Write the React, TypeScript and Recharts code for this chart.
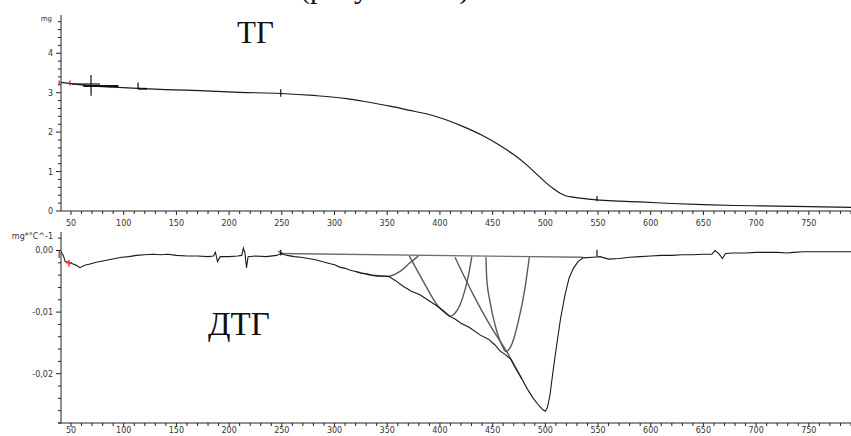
import { LineChart, Line, XAxis, YAxis, ReferenceLine } from 'recharts'

// TG curve: temperature (°C) and mass (mg)
const tgTemp = [40.5, 50, 60, 70, 90, 113.6, 140, 172.4, 210, 249, 280, 311.6, 330, 352.6, 370, 390.6, 405, 422.2, 440, 457, 470, 482.3, 492, 501.3, 508, 514, 520, 526.3, 535, 548.7, 570, 589.8, 620, 649.6, 680, 703.7, 750, 790]
const tgMass = [3.26, 3.23, 3.2, 3.17, 3.14, 3.11, 3.08, 3.05, 3.01, 2.98, 2.93, 2.85, 2.77, 2.66, 2.56, 2.44, 2.32, 2.14, 1.92, 1.66, 1.43, 1.17, 0.93, 0.7, 0.56, 0.45, 0.38, 0.35, 0.32, 0.28, 0.25, 0.23, 0.19, 0.16, 0.14, 0.13, 0.11, 0.094]

// DTG curve: temperature (°C) and rate (mg/°C)
const dtgTemp = [40.5, 42.7, 44.5, 49, 55, 58.5, 63, 68, 74, 80, 86, 92, 98, 105, 112, 120, 128, 135, 142, 150, 160, 170, 180, 185, 187, 189, 191.5, 200, 208, 212, 213.5, 215, 216.5, 218, 225, 235, 245, 249, 255, 262, 268, 275, 282, 288, 295, 300, 305, 310, 315, 320, 325, 330, 335, 343, 351, 358, 365, 373, 381, 390, 398, 404, 409.6, 415, 420, 428, 438, 446, 452, 457, 462, 467, 472, 477.6, 483, 488.6, 494, 498, 500, 502, 504.4, 507, 510.8, 514.5, 518.7, 522.5, 526.6, 531, 536, 545, 552, 560, 570, 580, 590, 600, 610, 620, 630, 640, 650, 658, 661, 665, 668, 671, 678, 690, 700, 710, 720, 730, 735, 745, 760, 775, 790]
const dtgRate = [-0.0002, -0.0008, -0.0018, -0.002, -0.0024, -0.0028, -0.0024, -0.0022, -0.0019, -0.0017, -0.0015, -0.0013, -0.0011, -0.001, -0.0008, -0.0007, -0.0006, -0.0007, -0.0006, -0.0008, -0.0009, -0.0009, -0.001, -0.0009, -0.0003, -0.0018, -0.001, -0.001, -0.0009, -0.0008, 0.0004, -0.0004, -0.0028, -0.001, -0.0009, -0.001, -0.0008, -0.0005, -0.0008, -0.001, -0.0011, -0.0013, -0.0015, -0.0018, -0.0021, -0.0023, -0.0027, -0.0029, -0.0032, -0.0034, -0.0037, -0.0038, -0.004, -0.0041, -0.0042, -0.0049, -0.0058, -0.0066, -0.0072, -0.0082, -0.0091, -0.0099, -0.0107, -0.0112, -0.0118, -0.0125, -0.0137, -0.0144, -0.0153, -0.0163, -0.0169, -0.0176, -0.0192, -0.0208, -0.0225, -0.024, -0.0252, -0.0259, -0.0261, -0.0255, -0.0235, -0.02, -0.0153, -0.011, -0.0072, -0.0045, -0.0029, -0.0018, -0.0012, -0.0011, -0.001, -0.0014, -0.0013, -0.0011, -0.001, -0.0009, -0.0008, -0.0008, -0.0007, -0.0007, -0.0006, -0.0006, 0, -0.0006, -0.0013, -0.0005, -0.0004, -0.0004, -0.0003, -0.0003, -0.0003, -0.0004, -0.0003, -0.0002, -0.0002, -0.0002, -0.0002]

// baseline and fitted peaks under the DTG
const baseTemp = [248.3, 535.8]
const baseRate = [-0.0005, -0.0011]
const peak1Temp = [320, 335, 343.2, 351, 362.1, 371.6, 379.5]
const peak1Rate = [-0.0034, -0.004, -0.0042, -0.0042, -0.0034, -0.002, -0.0009]
const peak2Temp = [371, 384.2, 398.5, 404.8, 409.6, 414.3, 419.1, 423.8, 427.6, 430.2]
const peak2Rate = [-0.0009, -0.005, -0.0091, -0.0101, -0.0107, -0.0102, -0.0088, -0.0064, -0.0036, -0.001]
const peak3Temp = [443.7, 444.4, 447.5, 452.3, 458.6, 462.4, 467.2, 474.4, 480.7, 484.8]
const peak3Rate = [-0.0011, -0.0045, -0.0083, -0.0121, -0.0153, -0.0164, -0.0156, -0.0115, -0.0061, -0.0011]
const peak4Temp = [414.3, 431.7, 447.5, 463.3, 477.6]
const peak4Rate = [-0.0011, -0.0072, -0.0121, -0.0164, -0.0208]

// ticks
const xMajorTicks = [50, 100, 150, 200, 250, 300, 350, 400, 450, 500, 550, 600, 650, 700, 750]
const tgMajorTicks = [0, 1, 2, 3, 4]
const dtgMajorTicks = [0, -0.01, -0.02]

const xTicks = xMajorTicks.flatMap((m) => [0, 10, 20, 30, 40].map((k) => m + k))
const tgTicks = tgMajorTicks.flatMap((m) => [0, 0.2, 0.4, 0.6, 0.8].map((k) => Math.round((m + k) * 10) / 10))
const dtgTicks = [0.002, ...dtgMajorTicks.flatMap((m) => [0, 0.002, 0.004, 0.006, 0.008].map((k) => Math.round((m - k) * 1000) / 1000)), -0.028]

const zip = (t: number[], v: number[]) => t.map((x, i) => ({ t: x, v: v[i] }))
const tgData = zip(tgTemp, tgMass)
const dtgData = zip(dtgTemp, dtgRate)

const axisColor = '#222'
const labelFont = 'DejaVu Sans, Verdana, sans-serif'

const makeXTick = (dy: number) => (props: any) => {
  const { x, y, payload } = props
  const major = xMajorTicks.includes(payload.value)
  return (
    <g>
      <line x1={x} x2={x} y1={y} y2={y + (major ? 4 : 3)} stroke={axisColor} />
      {major && (
        <text x={x} y={y + dy} textAnchor="middle" fontSize={8} fill="#333" fontFamily={labelFont}>
          {payload.value}
        </text>
      )}
    </g>
  )
}

const makeYTick = (isMajor: (v: number) => boolean, fmt: (v: number) => string) => (props: any) => {
  const { x, y, payload } = props
  const major = isMajor(payload.value)
  return (
    <g>
      <line x1={x - (major ? 5 : 3)} x2={x} y1={y} y2={y} stroke={axisColor} />
      {major && (
        <text x={x - 8} y={y + 3} textAnchor="end" fontSize={8} fill="#333" fontFamily={labelFont}>
          {fmt(payload.value)}
        </text>
      )}
    </g>
  )
}

const tgYTick = makeYTick((v) => tgMajorTicks.includes(v), (v) => String(v))
const dtgYTick = makeYTick(
  (v) => dtgMajorTicks.some((m) => Math.abs(m - v) < 1e-9),
  (v) => v.toFixed(2).replace('.', ',')
)

const seg = (x1: number, y1: number, x2: number, y2: number) => [{ x: x1, y: y1 }, { x: x2, y: y2 }]

export default function App() {
  return (
    <div style={{ position: 'absolute', left: 0, top: 0, width: 851, height: 436, overflow: 'hidden', background: '#fff' }}>
      <div style={{ position: 'absolute', left: 0, top: 0 }}>
        <LineChart width={851} height={232} margin={{ top: 15, right: 0, bottom: 0, left: 21 }}>
          <XAxis
            dataKey="t"
            type="number"
            domain={[40.5, 790]}
            allowDataOverflow
            ticks={xTicks}
            interval={0}
            tickSize={0}
            tickMargin={0}
            tickLine={false}
            tick={makeXTick(14.5)}
            axisLine={{ stroke: axisColor }}
            height={21}
          />
          <YAxis
            type="number"
            domain={[0, 4.97]}
            allowDataOverflow
            ticks={tgTicks}
            interval={0}
            tickSize={0}
            tickMargin={0}
            tickLine={false}
            tick={tgYTick}
            axisLine={{ stroke: axisColor }}
            width={40}
          />
          <Line data={tgData} dataKey="v" type="monotone" stroke="#1a1a1a" strokeWidth={1.2} dot={false} isAnimationActive={false} />
          <ReferenceLine segment={seg(38.8, 3.2, 38.8, 3.31)} stroke="#e02020" strokeWidth={1.3} ifOverflow="visible" />
          <ReferenceLine segment={seg(49, 3.18, 49, 3.31)} stroke="#e02020" strokeWidth={1.3} />
          <ReferenceLine segment={seg(50.7, 3.22, 77.5, 3.22)} stroke="#111" strokeWidth={1.2} />
          <ReferenceLine segment={seg(61.7, 3.17, 94.9, 3.17)} stroke="#111" strokeWidth={1.8} />
          <ReferenceLine segment={seg(69, 3.45, 69, 2.92)} stroke="#111" strokeWidth={1.2} />
          <ReferenceLine segment={seg(113.6, 3.26, 113.6, 3.09)} stroke="#111" strokeWidth={1.2} />
          <ReferenceLine segment={seg(113.6, 3.1, 122, 3.1)} stroke="#111" strokeWidth={1.8} />
          <ReferenceLine segment={seg(249, 3.09, 249, 2.9)} stroke="#111" strokeWidth={1.2} />
          <ReferenceLine segment={seg(549, 0.38, 549, 0.25)} stroke="#111" strokeWidth={1.2} />
        </LineChart>
      </div>
      <div style={{ position: 'absolute', left: 0, top: 220 }}>
        <LineChart width={851} height={230} margin={{ top: 12, right: 0, bottom: 0, left: 21 }}>
          <XAxis
            dataKey="t"
            type="number"
            domain={[40.5, 790]}
            allowDataOverflow
            ticks={xTicks}
            interval={0}
            tickSize={0}
            tickMargin={0}
            tickLine={false}
            tick={makeXTick(9.5)}
            axisLine={{ stroke: axisColor }}
            height={27}
          />
          <YAxis
            type="number"
            domain={[-0.028, 0.003]}
            allowDataOverflow
            ticks={dtgTicks}
            interval={0}
            tickSize={0}
            tickMargin={0}
            tickLine={false}
            tick={dtgYTick}
            axisLine={{ stroke: axisColor }}
            width={40}
          />
          <Line data={zip(baseTemp, baseRate)} dataKey="v" type="linear" stroke="#6e6e6e" strokeWidth={1.4} dot={false} isAnimationActive={false} />
          <Line data={zip(peak1Temp, peak1Rate)} dataKey="v" type="monotone" stroke="#5a5a5a" strokeWidth={1.4} dot={false} isAnimationActive={false} />
          <Line data={zip(peak2Temp, peak2Rate)} dataKey="v" type="monotone" stroke="#5a5a5a" strokeWidth={1.4} dot={false} isAnimationActive={false} />
          <Line data={zip(peak3Temp, peak3Rate)} dataKey="v" type="monotone" stroke="#5a5a5a" strokeWidth={1.4} dot={false} isAnimationActive={false} />
          <Line data={zip(peak4Temp, peak4Rate)} dataKey="v" type="monotone" stroke="#5a5a5a" strokeWidth={1.4} dot={false} isAnimationActive={false} />
          <Line data={dtgData} dataKey="v" type="linear" stroke="#1a1a1a" strokeWidth={1.1} dot={false} isAnimationActive={false} />
          <ReferenceLine segment={seg(38.8, 0, 38.8, -0.0012)} stroke="#e02020" strokeWidth={1.3} ifOverflow="visible" />
          <ReferenceLine segment={seg(48, -0.0015, 48, -0.0026)} stroke="#e02020" strokeWidth={1.3} />
          <ReferenceLine segment={seg(45, -0.002, 51, -0.002)} stroke="#e02020" strokeWidth={1.3} />
          <ReferenceLine segment={seg(249, 0.0001, 249, -0.0008)} stroke="#111" strokeWidth={1.2} />
          <ReferenceLine segment={seg(246.5, -0.0001, 251.5, -0.0006)} stroke="#111" strokeWidth={1} />
          <ReferenceLine segment={seg(549, 0.0001, 549, -0.0009)} stroke="#111" strokeWidth={1.2} />
        </LineChart>
      </div>
      <svg width={851} height={436} style={{ position: 'absolute', left: 0, top: 0, pointerEvents: 'none' }}>
        <text x={300} y={-2} fontSize={30} fontFamily="Liberation Serif, serif" fill="#111">(рисунок 3.5)</text>
        <text x={237} y={43} fontSize={31} fontFamily="Liberation Serif, serif" fill="#111">ТГ</text>
        <text x={208} y={335} fontSize={33} fontFamily="Liberation Serif, serif" fill="#111">ДТГ</text>
        <text x={52} y={21} textAnchor="end" fontSize={7} fontFamily={labelFont} fill="#333">mg</text>
        <text x={53} y={238.5} textAnchor="end" fontSize={8} fontFamily={labelFont} fill="#333">mg*°C^-1</text>
      </svg>
    </div>
  )
}
